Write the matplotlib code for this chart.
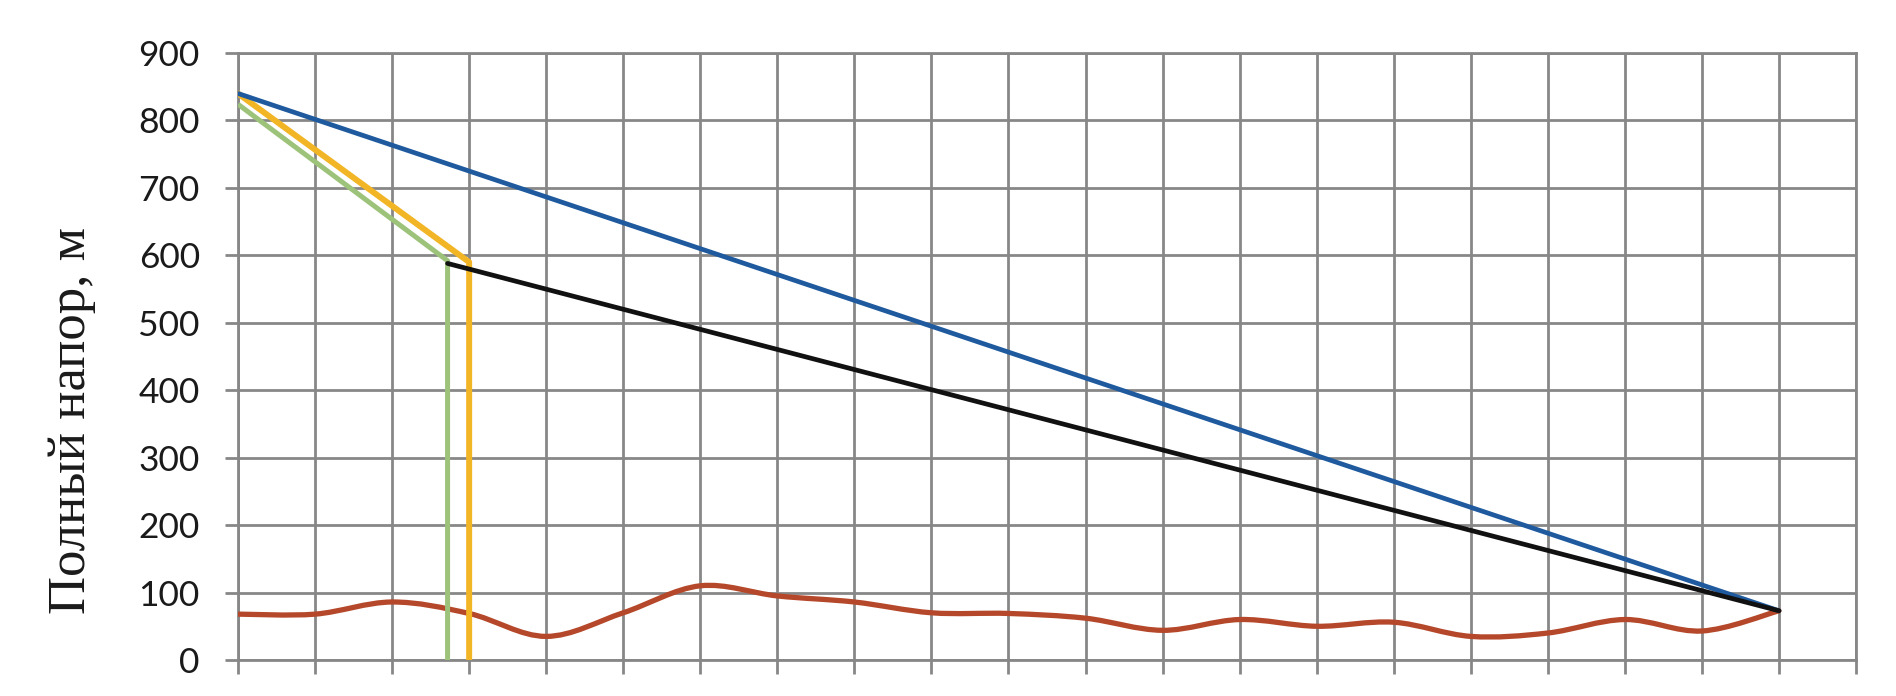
import matplotlib

matplotlib.use("Agg")

import matplotlib.pyplot as plt
from matplotlib.patches import PathPatch
from matplotlib.path import Path

# --- data (x in section numbers, y = full head, m) ---
design_x = [0, 20]
design_y = [840, 73]

orange_x = [0, 3, 3]
orange_y = [840, 590, 0]

green_x = [0, 2.72, 2.72]
green_y = [824, 592, 0]

black_x = [2.72, 20]
black_y = [588, 73]

terrain_x = list(range(21))
terrain_y = [68, 68, 86, 69, 35, 70, 110, 95, 86, 70, 69, 62, 44, 60, 50, 56,
             35, 40, 60, 43, 73]

y_ticks = [0, 100, 200, 300, 400, 500, 600, 700, 800, 900]
x_ticks = list(range(22))

GRID = "#878787"


def smooth_path(xs, ys):
    # Excel-style smoothed line: cubic bezier segments through every point
    pts = list(zip(xs, ys))
    verts = [pts[0]]
    codes = [Path.MOVETO]
    n = len(pts)
    for i in range(n - 1):
        p0 = pts[i - 1] if i > 0 else pts[i]
        p1 = pts[i]
        p2 = pts[i + 1]
        p3 = pts[i + 2] if i + 2 < n else pts[i + 1]
        c1 = (p1[0] + (p2[0] - p0[0]) / 6, p1[1] + (p2[1] - p0[1]) / 6)
        c2 = (p2[0] - (p3[0] - p1[0]) / 6, p2[1] - (p3[1] - p1[1]) / 6)
        verts += [c1, c2, p2]
        codes += [Path.CURVE4] * 3
    return Path(verts, codes)


fig = plt.figure(figsize=(18.96, 6.96), dpi=100)
ax = fig.add_axes([238 / 1896, 36 / 696, (1856 - 238) / 1896, (660 - 53) / 696])

ax.add_patch(PathPatch(smooth_path(terrain_x, terrain_y), facecolor="none",
                       edgecolor="#B5482A", linewidth=3.8, capstyle="round",
                       joinstyle="round", zorder=3))
ax.plot(green_x, green_y, color="#9DC37A", linewidth=3.6,
        solid_capstyle="butt", solid_joinstyle="round", zorder=4)
ax.plot(orange_x, orange_y, color="#F2B526", linewidth=4.3,
        solid_capstyle="round", solid_joinstyle="round", zorder=5)
ax.plot(design_x, design_y, color="#1F5A9E", linewidth=3.4,
        solid_capstyle="round", zorder=6)
ax.plot(black_x, black_y, color="#111111", linewidth=3.4,
        solid_capstyle="round", zorder=7)

ax.set_xlim(0, 21)
ax.set_ylim(0, 900)
ax.set_xticks(x_ticks)
ax.set_yticks(y_ticks)
ax.grid(True, color=GRID, linewidth=2.0, zorder=1)
ax.set_axisbelow(True)
for s in ax.spines.values():
    s.set_color(GRID)
    s.set_linewidth(2.0)

ax.tick_params(axis="x", direction="out", length=10, width=2.0, color=GRID,
               labelbottom=False)
ax.tick_params(axis="y", direction="out", length=9.5, width=2.0, color=GRID,
               pad=18, labelsize=25.5, labelcolor="#1a1a1a")
for lab in ax.get_yticklabels():
    lab.set_fontfamily(["Lato", "DejaVu Sans"])

ax.set_ylabel("Полный напор, м", fontsize=38, family="Liberation Serif",
              color="#1a1a1a")
ax.yaxis.set_label_coords(-0.088, 0.394)

fig.savefig("out.png", dpi=100)
